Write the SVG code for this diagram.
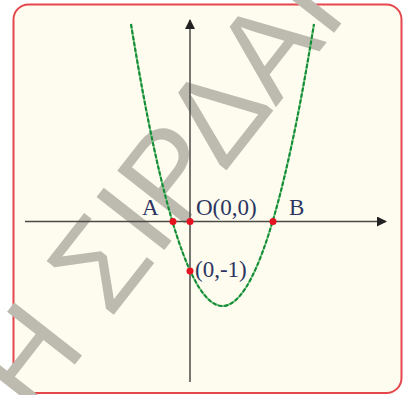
<svg xmlns="http://www.w3.org/2000/svg" width="404" height="395" viewBox="0 0 404 395">
  <defs>
    <style>
      .lbl { font-family: "Liberation Serif", "Times New Roman", serif; font-size: 23px; fill: #2c3562; }
      .axis { stroke: #4a4a48; stroke-width: 1.5; fill: none; }
      .pt { fill: #e5121f; }
      .wm { font-family: "Liberation Sans", Arial, sans-serif; font-size: 125px; fill: #bdbaaf; }
    </style>
    <marker id="arr" viewBox="0 0 10 10" refX="9" refY="5" markerWidth="10" markerHeight="10" markerUnits="userSpaceOnUse" orient="auto">
      <path d="M0,0 L10,5 L0,10 z" fill="#222"/>
    </marker>
  </defs>
  <rect x="0" y="0" width="404" height="395" fill="#ffffff"/>
  <rect id="frame" x="13.5" y="4.5" width="388" height="388.5" rx="15" ry="15" fill="#fefcee" stroke="#e5464b" stroke-width="2"/>
  <g id="watermark">
    <text class="wm" transform="translate(32.8,418.5) rotate(-52)" x="0" y="0">Η ΣΙΡΔΑΙ</text>
  </g>
  <g id="connectors">
    <line class="axis" x1="25" y1="221.5" x2="386" y2="221.5" marker-end="url(#arr)"/>
    <line class="axis" x1="190" y1="382" x2="190" y2="20" marker-end="url(#arr)"/>
  </g>
  <g id="curve">
    <path d="M131,24 Q222.5,588 314,24" fill="none" stroke="#6cc07a" stroke-width="2"/>
    <path d="M131,24 Q222.5,588 314,24" fill="none" stroke="#128a36" stroke-width="2" stroke-dasharray="4 2"/>
  </g>
  <g id="pointA">
    <circle class="pt" cx="173" cy="221.5" r="3.5"/>
    <text class="lbl" x="142" y="215">A</text>
  </g>
  <g id="pointO">
    <circle class="pt" cx="190" cy="221.5" r="3.5"/>
    <text class="lbl" x="196" y="215">O(0,0)</text>
  </g>
  <g id="pointB">
    <circle class="pt" cx="273" cy="221.5" r="3.5"/>
    <text class="lbl" x="289" y="215">B</text>
  </g>
  <g id="pointC">
    <circle class="pt" cx="190" cy="271" r="3.5"/>
    <text class="lbl" x="195" y="277">(0,-1)</text>
  </g>
</svg>
